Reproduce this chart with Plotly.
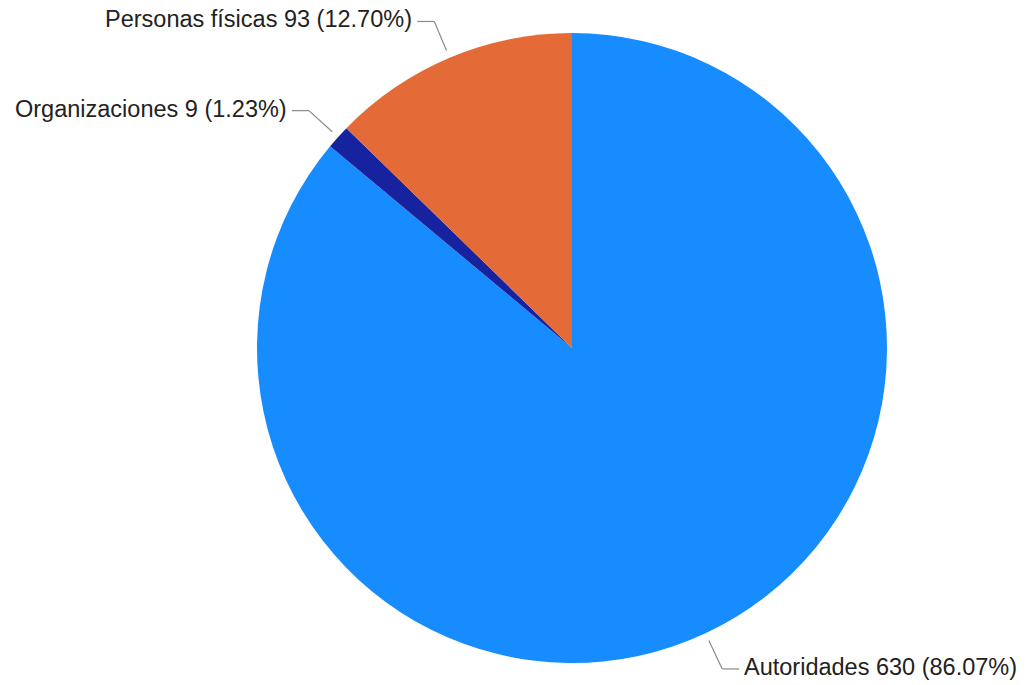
import math
import plotly.graph_objects as go

labels = ["Autoridades", "Organizaciones", "Personas físicas"]
values = [630, 9, 93]
percents = ["86.07%", "1.23%", "12.70%"]
colors = ["#168cff", "#16229e", "#e46b38"]

W, H = 1026, 685
L, T = 257, 33
PW = PH = 630
R, B = W - L - PW, H - T - PH
cx, cy = L + PW / 2, T + PH / 2
rad = min(PW, PH) / 2

def to_paper(px, py):
    return (px - L) / PW, 1 - (py - T) / PH

fig = go.Figure(go.Pie(
    labels=labels, values=values, sort=False, direction="clockwise", rotation=0,
    marker=dict(colors=colors, line=dict(width=0)),
    textinfo="none", hoverinfo="label+value+percent", showlegend=False,
))

total = sum(values)
start = 0.0
shapes, annots = [], []
for lab, v, pct in zip(labels, values, percents):
    frac = v / total
    mid = (start + frac / 2) * 2 * math.pi
    start += frac
    sx, sy = math.sin(mid), -math.cos(mid)
    p0 = (cx + sx * rad * 1.025, cy + sy * rad * 1.025)
    p1 = (cx + sx * rad * 1.125, cy + sy * rad * 1.125)
    side = 1 if sx >= 0 else -1
    p2 = (p1[0] + side * 17, p1[1])
    for a, b in ((p0, p1), (p1, p2)):
        x0, y0 = to_paper(*a)
        x1, y1 = to_paper(*b)
        shapes.append(dict(type="line", xref="paper", yref="paper", x0=x0, y0=y0, x1=x1, y1=y1,
                           line=dict(color="#8a8a8a", width=1.2)))
    tx, ty = to_paper(p2[0] + side * 4, p2[1] - 2)
    annots.append(dict(xref="paper", yref="paper", x=tx, y=ty, showarrow=False,
                       text=f"{lab} {v} ({pct})", xanchor="left" if side > 0 else "right",
                       yanchor="middle", borderpad=0,
                       font=dict(size=23.5, color="#222222",
                                 family="Liberation Sans, Arial, sans-serif")))

fig.update_layout(width=W, height=H, margin=dict(l=L, r=R, t=T, b=B),
                  paper_bgcolor="white", plot_bgcolor="white",
                  shapes=shapes, annotations=annots)
fig.write_html("out.html", config={"displayModeBar": False},
               post_script="document.body.style.margin='0';")
